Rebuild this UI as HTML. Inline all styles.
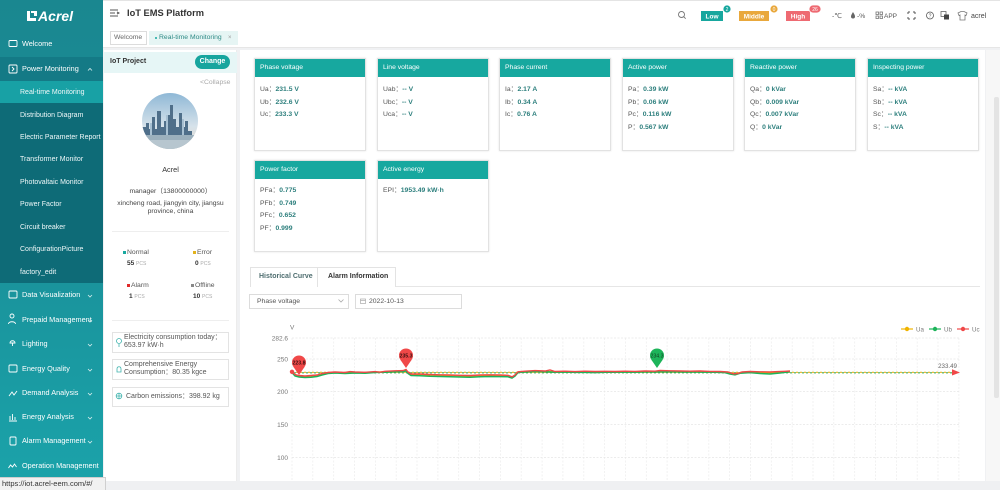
<!DOCTYPE html>
<html><head><meta charset="utf-8">
<style>
*{margin:0;padding:0;box-sizing:border-box}
html,body{width:1000px;height:490px;overflow:hidden;background:#f0f1f3;font-family:"Liberation Sans",sans-serif;color:#333}
.a{position:absolute}
.t{position:absolute;line-height:10px;white-space:nowrap}
.ni{position:absolute;left:22px;color:#fff;font-size:7.3px;line-height:10px;white-space:nowrap}
.si{position:absolute;left:20px;color:#eef7f8;font-size:7px;line-height:10px;white-space:nowrap}
.card{position:absolute;width:112px;background:#fff;border:1px solid #e2e2e2;box-shadow:0 0 2px rgba(0,0,0,.12)}
.card .h{height:18px;background:#17a89f;color:#fff;font-size:6.8px;line-height:18px;padding-left:5px;white-space:nowrap}
.card .r{position:absolute;left:5px;font-size:6.8px;line-height:12.5px;color:#555;white-space:nowrap}
.card .r b{color:#2d7f7d;font-weight:bold}
.box{position:absolute;left:112px;width:117px;border:1px solid #e3e3e3;font-size:7px;color:#555;line-height:8px;background:#fff}
</style></head><body>

<!-- Sidebar -->
<div class="a" style="left:0;top:0;width:103px;height:490px;background:linear-gradient(180deg,#1a8790 0%,#1a8f98 45%,#1a9aa2 75%,#1ba3aa 100%)"></div>
<div class="a" style="left:0;top:57px;width:103px;height:24px;background:#147a86"></div>
<div class="a" style="left:0;top:81px;width:103px;height:22px;background:#18a1a5"></div>
<div class="a" style="left:0;top:103px;width:103px;height:180px;background:#0e6b77"></div>

<!-- logo -->
<svg class="a" style="left:26px;top:10px" width="12" height="12" viewBox="0 0 12 12"><path d="M1 1h3v7h6v3H1z M5 1h6v5H8V3H5z" fill="#fff"/></svg>
<div class="t" style="left:38px;top:8px;font-size:14px;line-height:16px;color:#fff;font-weight:bold;font-style:italic">Acrel</div>

<div class="ni" style="top:39px">Welcome</div>
<div class="ni" style="top:64px">Power Monitoring</div>
<div class="si" style="top:88px">Real-time Monitoring</div>
<div class="si" style="top:111px">Distribution Diagram</div>
<div class="si" style="top:133px">Electric Parameter Report</div>
<div class="si" style="top:155px">Transformer Monitor</div>
<div class="si" style="top:178px">Photovaltaic Monitor</div>
<div class="si" style="top:200px">Power Factor</div>
<div class="si" style="top:223px">Circuit breaker</div>
<div class="si" style="top:245px">ConfigurationPicture</div>
<div class="si" style="top:268px">factory_edit</div>
<div class="ni" style="top:290px">Data Visualization</div>
<div class="ni" style="top:315px">Prepaid Management</div>
<div class="ni" style="top:339px">Lighting</div>
<div class="ni" style="top:364px">Energy Quality</div>
<div class="ni" style="top:388px">Demand Analysis</div>
<div class="ni" style="top:412px">Energy Analysis</div>
<div class="ni" style="top:436px">Alarm Management</div>
<div class="ni" style="top:461px">Operation Management</div>

<svg class="a" style="left:0;top:0" width="103" height="490">
 <g fill="none" stroke="#fff" stroke-width="0.9">
  <rect x="9" y="40.5" width="8" height="6" rx="1"/>
  <rect x="9" y="65" width="8" height="8" rx="1"/><path d="M12 67l2 2-2 2"/>
  <rect x="9" y="291" width="8" height="7" rx="1"/>
  <circle cx="12" cy="316" r="2"/><path d="M8.5 324c0-3 7-3 7 0"/>
  <path d="M10 343c0-3 5-3 5 0z M12.5 343v3"/>
  <rect x="9" y="365" width="8" height="7" rx="1"/>
  <path d="M9 396l3-4 2 3 3-4"/>
  <path d="M9 421h8 M10 420v-4 M12.5 420v-6 M15 420v-3"/>
  <rect x="10" y="437" width="6" height="8" rx="1"/>
  <path d="M8.5 468l2-3 2 2 2-3 2 3"/>
 </g>
 <g fill="none" stroke="#d8eeee" stroke-width="0.8">
  <path d="M88 70.5l2-2 2 2"/>
  <path d="M88 295l2 2 2-2"/><path d="M88 320l2 2 2-2"/><path d="M88 344l2 2 2-2"/><path d="M88 369l2 2 2-2"/>
  <path d="M88 393l2 2 2-2"/><path d="M88 417l2 2 2-2"/><path d="M88 441l2 2 2-2"/>
 </g>
</svg>

<!-- Header -->
<div class="a" style="left:103px;top:0;width:897px;height:48px;background:#fff;border-bottom:1px solid #e6e6e6;border-top:1px solid #e4e4e4"></div>
<svg class="a" style="left:110px;top:9px" width="10" height="8"><path d="M0 1h8M0 4h5M0 7h8M7 3l2 1-2 1" stroke="#555" stroke-width="1" fill="none"/></svg>
<div class="t" style="left:127px;top:8px;font-size:9.3px;line-height:11px;font-weight:bold;color:#333">IoT EMS Platform</div>
<div class="a" style="left:110px;top:31px;width:37px;height:14px;border:1px solid #dcdcdc;background:#fff"></div>
<div class="t" style="left:114px;top:33px;font-size:6.8px;color:#666">Welcome</div>
<div class="a" style="left:149px;top:31px;width:89px;height:14px;background:#e6f5f4"></div>
<div class="a" style="left:155px;top:37px;width:2px;height:2px;background:#17a89f;border-radius:1px"></div>
<div class="t" style="left:159px;top:33px;font-size:6.8px;color:#2d8a85">Real-time Monitoring</div>
<div class="t" style="left:228px;top:33px;font-size:6px;color:#999">×</div>

<!-- header right -->
<svg class="a" style="left:0;top:0" width="1000" height="48">
 <g fill="none" stroke="#777" stroke-width="0.9">
  <circle cx="681.5" cy="14.5" r="3"/><path d="M683.7 16.7l2 2"/>
 </g>
 <rect x="701" y="11" width="22" height="10" fill="#17a79e"/>
 <text x="712" y="18.5" font-size="6.5" fill="#fff" font-weight="bold" text-anchor="middle" font-family="Liberation Sans">Low</text>
 <circle cx="727" cy="9" r="4" fill="#17a79e" stroke="#fff" stroke-width="0.8"/>
 <text x="727" y="11" font-size="5" fill="#fff" text-anchor="middle" font-family="Liberation Sans">2</text>
 <rect x="739" y="11" width="30" height="10" fill="#e9a83c"/>
 <text x="754" y="18.5" font-size="6.5" fill="#fff" font-weight="bold" text-anchor="middle" font-family="Liberation Sans">Middle</text>
 <circle cx="774" cy="9" r="4" fill="#e9a83c" stroke="#fff" stroke-width="0.8"/>
 <text x="774" y="11" font-size="5" fill="#fff" text-anchor="middle" font-family="Liberation Sans">0</text>
 <rect x="786" y="11" width="24" height="10" fill="#ee6a72"/>
 <text x="798" y="18.5" font-size="6.5" fill="#fff" font-weight="bold" text-anchor="middle" font-family="Liberation Sans">High</text>
 <rect x="809" y="5" width="12" height="8" rx="4" fill="#ee6a72" stroke="#fff" stroke-width="0.8"/>
 <text x="815" y="11" font-size="5" fill="#fff" text-anchor="middle" font-family="Liberation Sans">26</text>
 <text x="832" y="18" font-size="6.8" fill="#555" font-family="Liberation Sans,DejaVu Sans">-℃</text>
 <path d="M853 12c-1.5 2.5-2 3.5-2 4.5a2 2 0 0 0 4 0c0-1-.5-2-2-4.5z" fill="#666"/>
 <text x="857" y="18" font-size="6.8" fill="#555" font-family="Liberation Sans">-%</text>
 <g fill="none" stroke="#777" stroke-width="0.8">
  <rect x="876" y="12" width="2.5" height="2.5"/><rect x="880" y="12" width="2.5" height="2.5"/><rect x="876" y="16" width="2.5" height="2.5"/><rect x="880" y="16" width="2.5" height="2.5"/>
 </g>
 <text x="884" y="18" font-size="6.5" fill="#555" font-family="Liberation Sans">APP</text>
 <g stroke="#555" stroke-width="1" fill="none">
  <path d="M908 12h2M908 12v2M915 12h-2M915 12v2M908 19h2M908 19v-2M915 19h-2M915 19v-2"/>
  <circle cx="930" cy="15.5" r="3.5" stroke-width="0.8"/>
 </g>
 <text x="930" y="17.5" font-size="5" fill="#555" text-anchor="middle" font-family="Liberation Sans">?</text>
 <rect x="941" y="11.5" width="5" height="5" fill="none" stroke="#666" stroke-width="0.8"/>
 <rect x="944" y="14.5" width="5" height="5" fill="#444"/>
 <path d="M958 13l3-1.5h3l3 1.5-1 2.5-1-.5v5h-5v-5l-1 .5z" fill="none" stroke="#777" stroke-width="0.8"/>
 <text x="971" y="18" font-size="7" fill="#444" font-family="Liberation Sans">acrel</text>
</svg>

<!-- Left panel -->
<div class="a" style="left:104px;top:50px;width:133px;height:431px;background:#fff;border-right:1px solid #ececec"></div>
<div class="a" style="left:104px;top:52px;width:133px;height:21px;background:#e6f6f6"></div>
<div class="t" style="left:110px;top:57px;font-size:7px;color:#333;font-weight:bold">IoT Project</div>
<div class="a" style="left:195px;top:55px;width:35px;height:14px;background:#17a59e;border-radius:7px;color:#fff;font-size:7px;font-weight:bold;text-align:center;line-height:14px">Change</div>
<div class="t" style="left:200px;top:78px;font-size:6.8px;color:#aaa">&lt;Collapse</div>
<svg class="a" style="left:142px;top:93px" width="56" height="56" viewBox="0 0 56 56">
 <defs>
  <clipPath id="cc"><circle cx="28" cy="28" r="28"/></clipPath>
  <linearGradient id="sky" x1="0" y1="0" x2="0" y2="1"><stop offset="0" stop-color="#8fb8d6"/><stop offset=".6" stop-color="#d6e2ea"/><stop offset="1" stop-color="#e8d9c8"/></linearGradient>
 </defs>
 <g clip-path="url(#cc)">
  <rect width="56" height="56" fill="url(#sky)"/>
  <path d="M0 44V34h4v-4h3v6h3V24h3v12h2V18h4v16h3V28h3v-6h3V12h3v14h3v8h3V20h3v14h3v-6h3v10h4v6z" fill="#4f6f8a"/>
  <path d="M8 44V30h2v14zM24 44V22h2v22zM40 44V26h2v18z" fill="#a7c0d2"/>
  <rect y="42" width="56" height="14" fill="#9bb0bd"/>
  <rect y="47" width="56" height="9" fill="#b7c6cf"/>
 </g>
</svg>
<div class="t" style="left:104px;width:133px;text-align:center;top:165px;font-size:7.3px;color:#333">Acrel</div>
<div class="t" style="left:104px;width:133px;text-align:center;top:187px;font-size:6.8px;color:#444">manager（13800000000）</div>
<div class="t" style="left:104px;width:133px;text-align:center;top:200px;font-size:6.8px;line-height:8px;color:#444;white-space:normal">xincheng road, jiangyin city, jiangsu<br>province, china</div>
<div class="a" style="left:112px;top:231px;width:117px;height:1px;background:#eee"></div>

<div class="a" style="left:123px;top:251px;width:3px;height:3px;background:#17a89f"></div>
<div class="t" style="left:127px;top:248px;font-size:6.8px;color:#555">Normal</div>
<div class="t" style="left:127px;top:259px;font-size:6.5px;color:#333;font-weight:bold">55 <span style="font-weight:normal;color:#aaa;font-size:5px">PCS</span></div>
<div class="a" style="left:193px;top:251px;width:3px;height:3px;background:#e2b21c"></div>
<div class="t" style="left:197px;top:248px;font-size:6.8px;color:#555">Error</div>
<div class="t" style="left:195px;top:259px;font-size:6.5px;color:#333;font-weight:bold">0 <span style="font-weight:normal;color:#aaa;font-size:5px">PCS</span></div>
<div class="a" style="left:127px;top:284px;width:3px;height:3px;background:#e02a2a"></div>
<div class="t" style="left:131px;top:281px;font-size:6.8px;color:#555">Alarm</div>
<div class="t" style="left:129px;top:292px;font-size:6.5px;color:#333;font-weight:bold">1 <span style="font-weight:normal;color:#aaa;font-size:5px">PCS</span></div>
<div class="a" style="left:191px;top:284px;width:3px;height:3px;background:#888"></div>
<div class="t" style="left:195px;top:281px;font-size:6.8px;color:#555">Offline</div>
<div class="t" style="left:193px;top:292px;font-size:6.5px;color:#333;font-weight:bold">10 <span style="font-weight:normal;color:#aaa;font-size:5px">PCS</span></div>
<div class="a" style="left:112px;top:320px;width:117px;height:1px;background:#eee"></div>

<div class="box" style="top:332px;height:21px"></div>
<div class="t" style="left:124px;top:334px;font-size:7px;line-height:8px;color:#555">Electricity consumption today：<br>653.97 kW·h</div>
<div class="box" style="top:359px;height:21px"></div>
<div class="t" style="left:124px;top:361px;font-size:7px;line-height:8px;color:#555">Comprehensive Energy<br>Consumption：80.35 kgce</div>
<div class="box" style="top:387px;height:20px"></div>
<div class="t" style="left:126px;top:392px;font-size:7px;color:#555">Carbon emissions：398.92 kg</div>
<svg class="a" style="left:0;top:0" width="240" height="420">
 <g fill="none" stroke="#3fb3ad" stroke-width="0.8">
  <circle cx="119" cy="341" r="2.5"/><path d="M119 344v3"/>
  <path d="M117 369c0-3 4-3 4 0v3h-4z"/>
  <circle cx="119" cy="396" r="2.8"/><path d="M116 396h6M119 393v6"/>
 </g>
</svg>

<!-- Main content -->
<div class="a" style="left:240px;top:50px;width:745px;height:431px;background:#fff"></div>
<div class="a" style="left:986px;top:50px;width:14px;height:431px;background:#f7f7f7"></div>
<div class="a" style="left:994px;top:97px;width:5px;height:301px;background:#e4e4e4;border-radius:2px"></div>

<!-- cards row1 -->
<div class="card" style="left:254px;top:58px;height:93px"><div class="h">Phase voltage</div>
 <div class="r" style="top:25px">Ua：<b>231.5 V</b><br>Ub：<b>232.6 V</b><br>Uc：<b>233.3 V</b></div></div>
<div class="card" style="left:377px;top:58px;height:93px"><div class="h">Line voltage</div>
 <div class="r" style="top:25px">Uab：<b>-- V</b><br>Ubc：<b>-- V</b><br>Uca：<b>-- V</b></div></div>
<div class="card" style="left:499px;top:58px;height:93px"><div class="h">Phase current</div>
 <div class="r" style="top:25px">Ia：<b>2.17 A</b><br>Ib：<b>0.34 A</b><br>Ic：<b>0.76 A</b></div></div>
<div class="card" style="left:622px;top:58px;height:93px"><div class="h">Active power</div>
 <div class="r" style="top:25px">Pa：<b>0.39 kW</b><br>Pb：<b>0.06 kW</b><br>Pc：<b>0.116 kW</b><br>P：<b>0.567 kW</b></div></div>
<div class="card" style="left:744px;top:58px;height:93px"><div class="h">Reactive power</div>
 <div class="r" style="top:25px">Qa：<b>0 kVar</b><br>Qb：<b>0.009 kVar</b><br>Qc：<b>0.007 kVar</b><br>Q：<b>0 kVar</b></div></div>
<div class="card" style="left:867px;top:58px;height:93px"><div class="h">Inspecting power</div>
 <div class="r" style="top:25px">Sa：<b>-- kVA</b><br>Sb：<b>-- kVA</b><br>Sc：<b>-- kVA</b><br>S：<b>-- kVA</b></div></div>
<!-- cards row2 -->
<div class="card" style="left:254px;top:160px;height:92px"><div class="h">Power factor</div>
 <div class="r" style="top:24px">PFa：<b>0.775</b><br>PFb：<b>0.749</b><br>PFc：<b>0.652</b><br>PF：<b>0.999</b></div></div>
<div class="card" style="left:377px;top:160px;height:92px"><div class="h">Active energy</div>
 <div class="r" style="top:24px">EPI：<b>1953.49 kW·h</b></div></div>

<!-- tabs -->
<div class="a" style="left:250px;top:286px;width:730px;height:1px;background:#e6e6e6"></div>
<div class="a" style="left:250px;top:267px;width:68px;height:20px;border:1px solid #e3e3e3;border-bottom:none;background:#fff"></div>
<div class="a" style="left:317px;top:267px;width:79px;height:20px;border:1px solid #e3e3e3;border-bottom:none;background:#fff"></div>
<div class="t" style="left:259px;top:272px;font-size:7px;color:#4f6e70;font-weight:bold">Historical Curve</div>
<div class="t" style="left:328px;top:272px;font-size:7px;color:#333;font-weight:bold">Alarm Information</div>
<div class="a" style="left:249px;top:294px;width:100px;height:15px;border:1px solid #dcdcdc"></div>
<div class="t" style="left:257px;top:297px;font-size:6.8px;color:#555">Phase voltage</div>
<svg class="a" style="left:338px;top:299px" width="6" height="4"><path d="M0.5 0.5l2.5 2.5 2.5-2.5" stroke="#aaa" stroke-width="0.8" fill="none"/></svg>
<div class="a" style="left:355px;top:294px;width:107px;height:15px;border:1px solid #dcdcdc"></div>
<svg class="a" style="left:360px;top:298px" width="6" height="6"><rect x="0.5" y="1" width="5" height="4.5" fill="none" stroke="#aaa" stroke-width="0.7"/><path d="M0.5 2.5h5" stroke="#aaa" stroke-width="0.7"/></svg>
<div class="t" style="left:369px;top:297px;font-size:6.8px;color:#555">2022-10-13</div>

<!-- Chart -->
<svg class="a" style="left:0;top:0" width="1000" height="490" font-family="Liberation Sans">
 <path d="M292 338V481M312.8 338V481M333.7 338V481M354.5 338V481M375.4 338V481M396.2 338V481M417 338V481M437.9 338V481M458.7 338V481M479.6 338V481M500.4 338V481M521.2 338V481M542.1 338V481M562.9 338V481M583.8 338V481M604.6 338V481M625.4 338V481M646.3 338V481M667.1 338V481M688 338V481M708.8 338V481M729.6 338V481M750.5 338V481M771.3 338V481M792.2 338V481M813 338V481M833.8 338V481M854.7 338V481M875.5 338V481M896.4 338V481M917.2 338V481M938 338V481M958.9 338V481" stroke="#eeeeee" stroke-width="0.8" stroke-dasharray="2 1.5" fill="none"/>
 <path d="M292 338H959M292 359H959M292 391.5H959M292 424.5H959M292 457.5H959" stroke="#e6e6e6" stroke-width="0.8" stroke-dasharray="2 1.5" fill="none"/>
 <g font-size="6.5" fill="#777" text-anchor="end">
  <text x="288" y="340.5">282.6</text>
  <text x="288" y="361.5">250</text>
  <text x="288" y="394">200</text>
  <text x="288" y="427">150</text>
  <text x="288" y="460">100</text>
 </g>
 <text x="290" y="329.5" font-size="6.5" fill="#777">V</text>

 <!-- legend -->
 <g stroke-width="1.2">
  <path d="M901 329H913" stroke="#f0b400"/><circle cx="907" cy="329" r="2.2" fill="#f0b400"/>
  <path d="M929 329H941" stroke="#1db45a"/><circle cx="935" cy="329" r="2.2" fill="#1db45a"/>
  <path d="M957 329H969" stroke="#f04848"/><circle cx="963" cy="329" r="2.2" fill="#f04848"/>
 </g>
 <g font-size="6.2" fill="#777">
  <text x="916" y="331.5">Ua</text><text x="944" y="331.5">Ub</text><text x="972" y="331.5">Uc</text>
 </g>

 <!-- avg lines -->
 <path d="M292 372.3H953" stroke="#e6b422" stroke-width="1.1" stroke-dasharray="2 2"/>
 <path d="M294 372.8H953" stroke="#48a848" stroke-width="1.1" stroke-dasharray="2 2"/>
 <path d="M952 369.3L960 372.5 952 375.5z" fill="#f04848"/>
 <text x="957" y="368" font-size="6.2" fill="#666" text-anchor="end">233.49</text>

 <!-- series -->
 <polyline fill="none" stroke="#f0b400" stroke-width="1.4" points="292,372 295,375 299,376 305,376.5 311,376 317,375.5 322,374 328,373 335,372.5 345,373 355,372.5 365,372.8 375,372.1 385,371.8 395,371.3 403,371.1 406,370.5 408,372.5 411,374.5 420,374.5 430,375 440,375.3 450,375.5 460,375.8 470,376 480,375.5 490,375.3 500,375.5 508,375.8 512,377.3 515,375.5 518,372.3 525,371.7 535,371.1 545,371.5 555,372 565,371.7 575,372.1 585,371.7 595,372 605,371.8 615,372 625,371.7 635,371.9 645,371.5 655,371.7 665,371.3 675,371.5 685,371.6 695,371.6 705,371.7 715,371.9 725,372.2 730,373.5 735,374.3 740,372.8 750,372 760,372.3 770,372.8 780,372.3 790,371.5"/>
 <polyline fill="none" stroke="#1db45a" stroke-width="1.5" points="292,372.5 295,376 299,377 305,377.5 311,377.2 317,376.5 322,375 328,373.5 335,373 345,373.5 355,373 365,373.2 375,372.5 385,372.2 395,371.8 403,371.5 406,371 408,373.5 411,375.5 420,375.8 430,376.3 440,376.5 450,376.8 460,377 470,377.2 480,376.8 490,376.5 500,376.6 508,376.8 512,378 515,376 518,372.5 525,372 535,371.4 545,371.8 555,372.3 565,372 575,372.4 585,372.4 595,372.6 605,372.2 615,372.3 625,372 635,372.2 645,371.8 655,372 665,371.6 675,371.8 685,372 695,372 705,372.1 715,372.3 725,372.6 730,374 735,374.8 740,373.3 750,372.6 760,373.5 770,374 780,373 790,371.8"/>
 <polyline fill="none" stroke="#f04848" stroke-width="1.4" points="292,371.5 295,374.5 299,375.5 305,376 311,375.5 317,375 322,373.5 328,372.5 335,372 345,372.5 350,371.6 355,372 365,372.3 375,371.6 380,372.2 385,371.3 395,370.8 403,370.6 406,369.5 408,372 411,374 420,374 430,374.5 440,374.8 450,375 460,375.3 470,375.5 480,375 490,374.8 500,375 508,375.3 512,376.8 515,375 518,371.8 525,371.2 535,370.6 545,371 550,370 555,371.5 565,371.2 575,371.6 585,371.2 595,371.5 605,371.3 615,371.5 625,371.2 635,371.4 645,371 655,371.2 660,370.5 670,370.8 680,371 690,371.2 700,371 710,371.4 720,371.5 728,372 733,373.8 738,373.5 742,372 750,371.5 760,371.8 770,372 778,371.6 785,371.3 790,371"/>
 <circle cx="292" cy="371.8" r="2.2" fill="#f04848"/>

 <!-- pins -->
 <g>
  <path d="M293.5 367L299 375 304.5 367z" fill="#f04848"/>
  <circle cx="299" cy="362.5" r="7" fill="#f04848"/>
  <text x="299" y="364.5" font-size="5.2" font-weight="bold" fill="#3a1010" text-anchor="middle">223.8</text>
  <path d="M400.5 360L406 368 411.5 360z" fill="#f04848"/>
  <circle cx="406" cy="355.5" r="7" fill="#f04848"/>
  <text x="406" y="357.5" font-size="5.2" font-weight="bold" fill="#3a1010" text-anchor="middle">235.3</text>
  <path d="M651.5 360L657 368 662.5 360z" fill="#1db45a"/>
  <circle cx="657" cy="355.5" r="7" fill="#1db45a"/>
  <text x="657" y="357.5" font-size="5.2" fill="#10401f" text-anchor="middle">234.3</text>
 </g>
</svg>

<!-- bottom band -->
<div class="a" style="left:104px;top:481px;width:896px;height:9px;background:#eff0f2"></div>
<div class="a" style="left:0;top:477px;width:106px;height:13px;background:#f1f1f1;border-top:1px solid #cfcfcf;border-right:1px solid #cfcfcf"></div>
<div class="t" style="left:2px;top:479px;font-size:7.5px;color:#333">https://iot.acrel-eem.com/#/</div>

</body></html>
